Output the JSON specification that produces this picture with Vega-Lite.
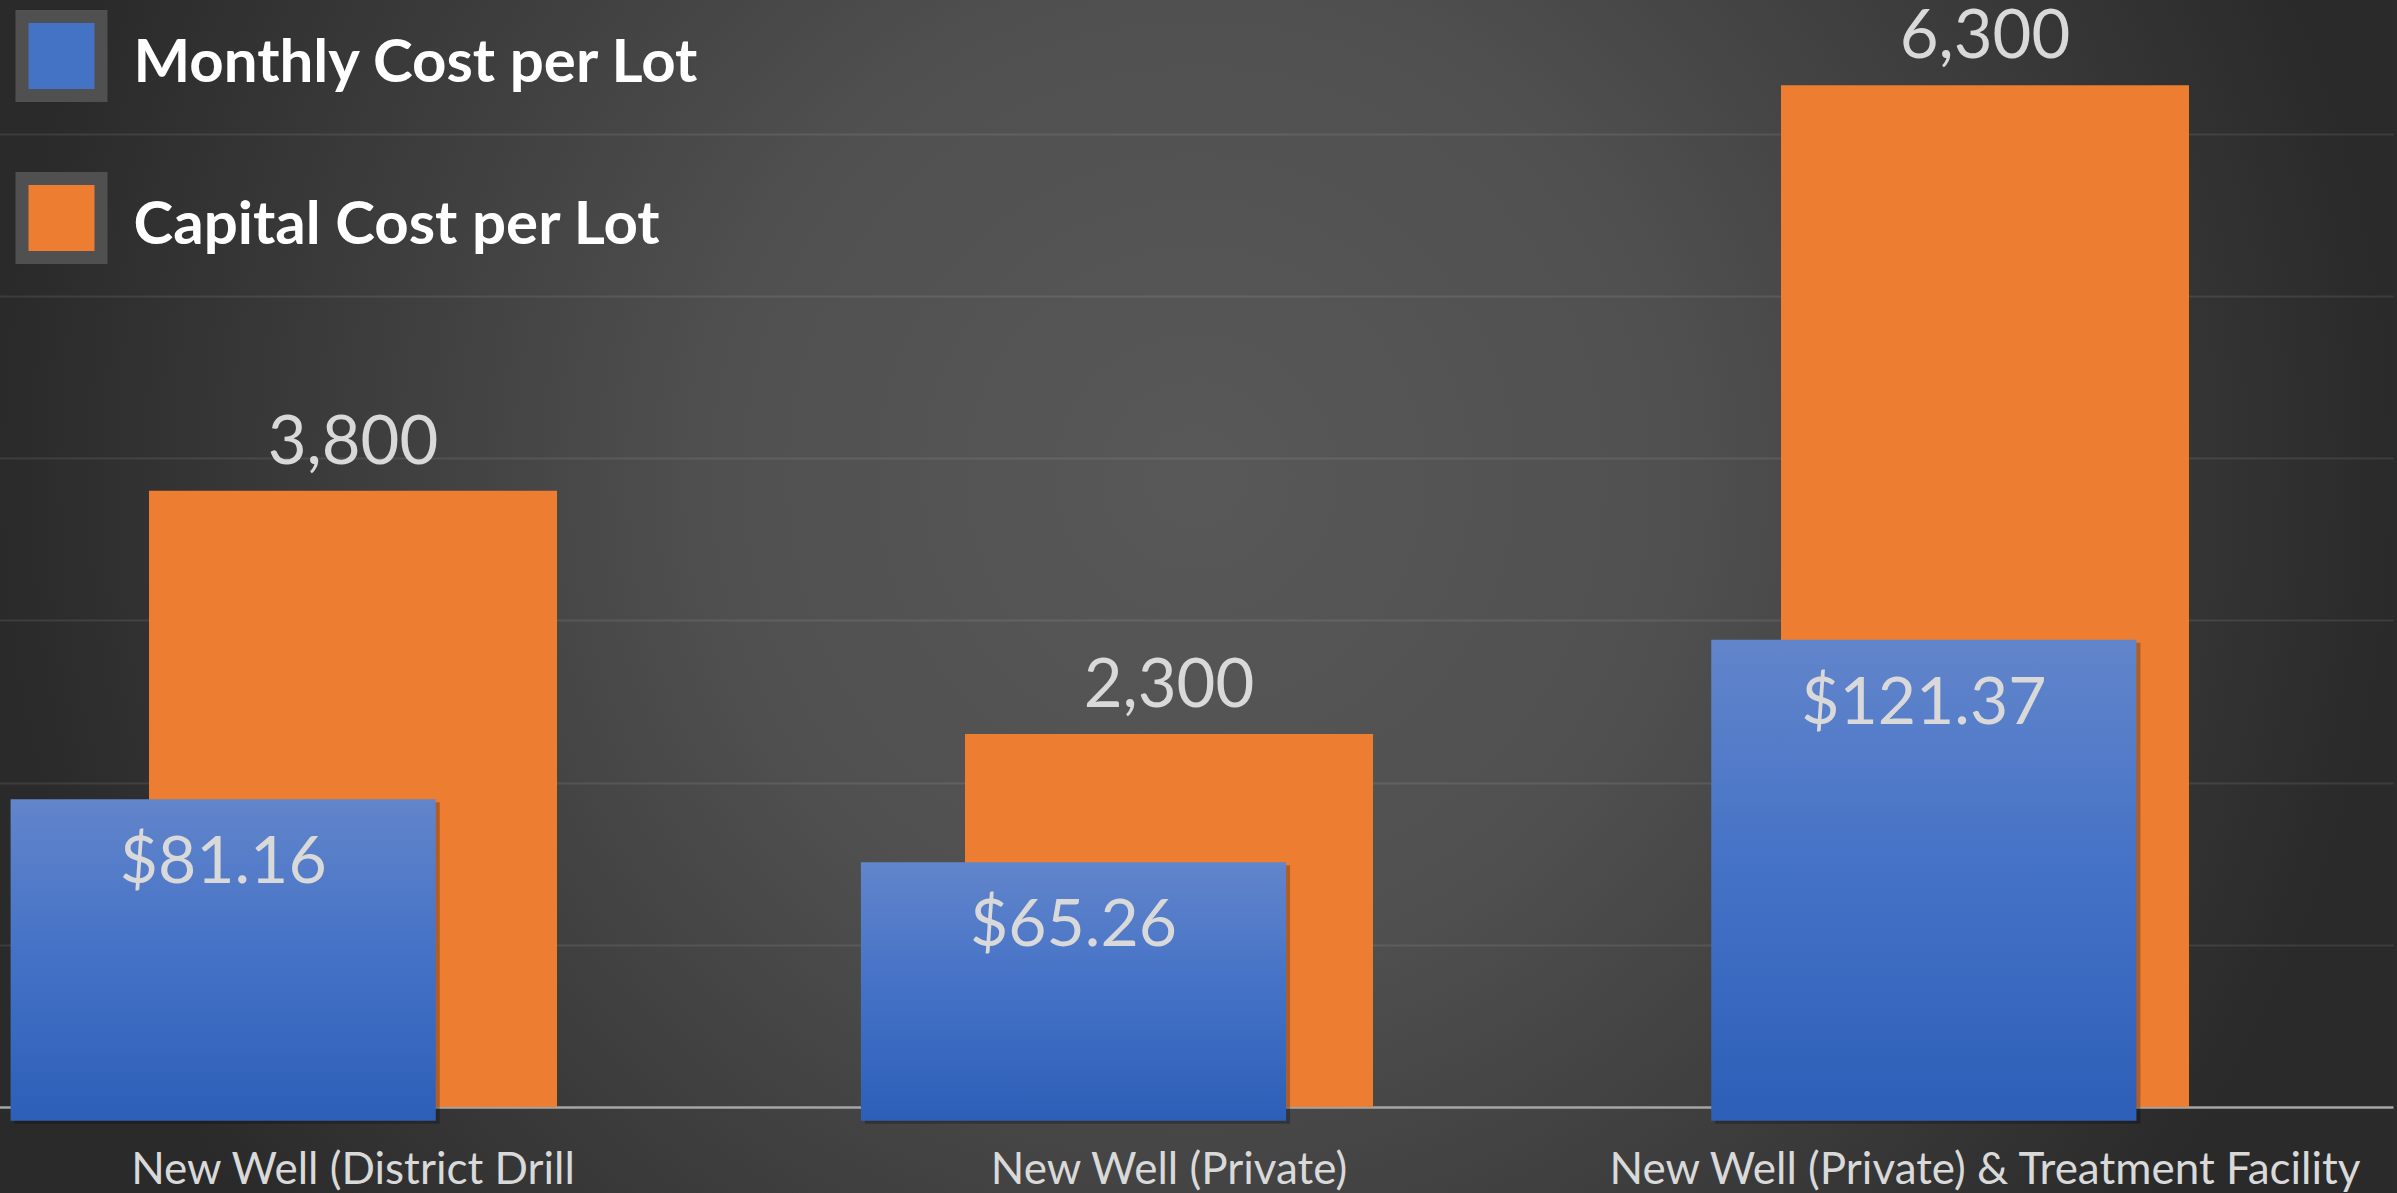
{
  "$schema": "https://vega.github.io/schema/vega-lite/v6.json",
  "width": 2393,
  "height": 1193,
  "autosize": {"type": "none"},
  "padding": {"left": 0, "top": 0, "right": 4, "bottom": 0},
  "background": "#2b2b2b",
  "config": {
    "view": {
      "stroke": null,
      "fill": {"gradient": "radial", "x1": 0.5, "y1": 0.45, "r1": 0, "x2": 0.5, "y2": 0.45, "r2": 0.5,
        "stops": [{"offset": 0, "color": "#585858"}, {"offset": 0.4, "color": "#505050"}, {"offset": 1, "color": "#2a2a2a"}]}
    },
    "text": {"font": "Lato"},
    "axis": {"labelFont": "Lato"},
    "legend": {"labelFont": "Lato"}
  },
  "data": {
    "values": [
      {"site": "New Well (District Drill", "monthly": 81.16, "capital": 3800},
      {"site": "New Well (Private)", "monthly": 65.26, "capital": 2300},
      {"site": "New Well (Private) & Treatment Facility", "monthly": 121.37, "capital": 6300}
    ]
  },
  "layer": [
    {
      "encoding": {
        "x": {"field": "site", "type": "nominal", "sort": null,
          "scale": {"type": "band", "range": [-55, 2393], "paddingInner": 0.5, "paddingOuter": 0.25},
          "axis": {"title": null, "orient": "bottom", "offset": -86, "labelAngle": 0, "labelFontSize": 44, "labelColor": "#d9d9d9",
            "labelBaseline": "alphabetic", "labelPadding": 76, "ticks": false, "tickSize": 0, "domain": true, "domainColor": "#a6a6a6", "domainWidth": 2.5,
            "grid": false, "labelLimit": 2000, "labelOverlap": false}},
        "y": {"field": "capital", "type": "quantitative",
          "scale": {"domain": [0, 7000], "range": [1107, -28.4], "nice": false, "zero": true},
          "axis": {"title": null, "labels": false, "ticks": false, "domain": false, "grid": true,
            "values": [1000, 2000, 3000, 4000, 5000, 6000], "gridColor": "#ffffff", "gridOpacity": 0.09, "gridWidth": 2}}
      },
      "layer": [
        {
          "mark": {"type": "bar"},
          "encoding": {
            "color": {"datum": "Capital Cost per Lot", "type": "nominal",
              "scale": {"domain": ["Monthly Cost per Lot", "Capital Cost per Lot"], "range": ["#4472c4", "#ed7d31"]},
              "legend": {"title": null, "orient": "none", "legendX": 15.5, "legendY": 10, "direction": "vertical",
                "symbolType": "square", "symbolSize": 6241, "symbolStrokeColor": "#505050", "symbolStrokeWidth": 13, "symbolOpacity": 1,
                "labelFontSize": 60, "labelFontWeight": "bold", "labelColor": "#ffffff", "labelOffset": 26, "rowPadding": 30,
                "labelLimit": 2000, "padding": 0,
                "encode": {"labels": {"update": {"dy": {"value": 8}}}}}}
          }
        },
        {
          "mark": {"type": "text", "baseline": "alphabetic", "dy": -27, "fontSize": 67, "color": "#d9d9d9"},
          "encoding": {"text": {"field": "capital", "type": "quantitative", "format": ","}}
        }
      ]
    },
    {
      "encoding": {
        "x": {"field": "site", "type": "nominal", "sort": null,
          "scale": {"type": "band", "range": [-202, 2349], "paddingInner": 0.5, "paddingOuter": 0.25},
          "axis": null},
        "y": {"field": "monthly", "type": "quantitative",
          "scale": {"domain": [0, 300], "range": [1120.7, -67.9], "nice": false, "zero": true},
          "axis": null}
      },
      "layer": [
        {
          "mark": {"type": "bar", "fill": "#000000", "opacity": 0.25, "xOffset": 4, "yOffset": 3}
        },
        {
          "mark": {"type": "bar",
            "fill": {"gradient": "linear", "x1": 0, "y1": 0, "x2": 0, "y2": 1,
              "stops": [{"offset": 0, "color": "#6285cb"}, {"offset": 0.5, "color": "#4371c6"}, {"offset": 1, "color": "#2d5fb8"}]}}
        },
        {
          "mark": {"type": "text", "baseline": "alphabetic", "dy": 84, "fontSize": 66, "color": "#d9d9d9"},
          "encoding": {"text": {"field": "monthly", "type": "quantitative", "format": "$.2f"}}
        }
      ]
    }
  ],
  "resolve": {"scale": {"x": "independent", "y": "independent"}, "axis": {"x": "independent", "y": "independent"}}
}
